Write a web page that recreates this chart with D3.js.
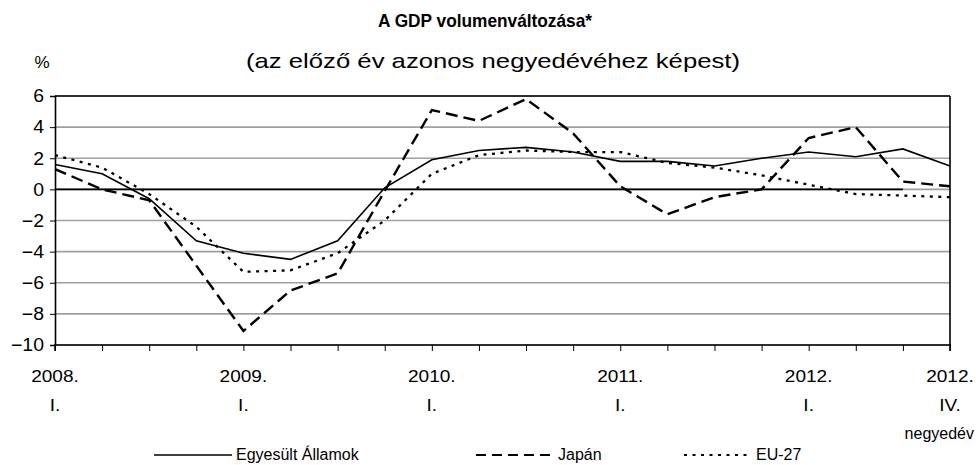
<!DOCTYPE html>
<html>
<head>
<meta charset="utf-8">
<script src="https://cdnjs.cloudflare.com/ajax/libs/d3/7.8.5/d3.min.js"></script>
<style>
    body { margin: 0; background: #fff; }
    text { font-family: "Liberation Sans", Arial, sans-serif; fill: #000; }
</style>
</head>
<body>
<svg id="chart" width="976" height="465"></svg>
<script>

var quarters = ["2008Q1", "2008Q2", "2008Q3", "2008Q4",
                "2009Q1", "2009Q2", "2009Q3", "2009Q4",
                "2010Q1", "2010Q2", "2010Q3", "2010Q4",
                "2011Q1", "2011Q2", "2011Q3", "2011Q4",
                "2012Q1", "2012Q2", "2012Q3", "2012Q4"];

var yearLabels = ["2008.", "", "", "", "2009.", "", "", "", "2010.", "", "", "",
                  "2011.", "", "", "", "2012.", "", "", "2012."];
var quarterLabels = ["I.", "", "", "", "I.", "", "", "", "I.", "", "", "",
                     "I.", "", "", "", "I.", "", "", "IV."];

var usa   = [1.6, 1.0, -0.6, -3.3, -4.1, -4.5, -3.3, 0.1, 1.9, 2.5, 2.7, 2.4,
             1.8, 1.8, 1.5, 2.0, 2.4, 2.1, 2.6, 1.5];
var japan = [1.3, 0.0, -0.7, -4.9, -9.1, -6.5, -5.4, -0.1, 5.1, 4.4, 5.8, 3.6,
             0.2, -1.6, -0.5, 0.0, 3.3, 4.0, 0.5, 0.2];
var eu27  = [2.2, 1.4, -0.3, -2.4, -5.3, -5.2, -4.1, -2.0, 1.0, 2.2, 2.5, 2.4,
             2.4, 1.7, 1.4, 0.9, 0.3, -0.3, -0.4, -0.5];

var yTicks = [-10, -8, -6, -4, -2, 0, 2, 4, 6];

var seriesNames = ["Egyesült Államok", "Japán", "EU-27"];

var svg = d3.select("#chart");

var plotLeft = 55, plotRight = 950, plotTop = 96, plotBottom = 345;

var x = d3.scalePoint()
    .domain(quarters)
    .range([plotLeft, plotRight]);

var y = d3.scaleLinear()
    .domain([-10, 6])
    .range([plotBottom, plotTop]);

// widen a text horizontally, the reference lettering is a bit stretched
function stretch(sel, k) {
    sel.each(function () {
        var w = this.getComputedTextLength();
        if (w > 0) {
            d3.select(this)
                .attr("textLength", w * k)
                .attr("lengthAdjust", "spacingAndGlyphs");
        }
    });
}

/* title */
svg.append("text")
    .attr("x", 485).attr("y", 27)
    .attr("text-anchor", "middle")
    .style("font-size", "19px").style("font-weight", "bold")
    .text("A GDP volumenváltozása*")
    .attr("textLength", 214)
    .attr("lengthAdjust", "spacingAndGlyphs");

svg.append("text")
    .attr("x", 493).attr("y", 68)
    .attr("text-anchor", "middle")
    .style("font-size", "21px")
    .text("(az előző év azonos negyedévéhez képest)")
    .attr("textLength", 494)
    .attr("lengthAdjust", "spacingAndGlyphs");

svg.append("text")
    .attr("x", 42).attr("y", 68)
    .attr("text-anchor", "middle")
    .style("font-size", "17px")
    .text("%");

/* gridlines */
svg.append("g")
    .selectAll("line")
    .data(yTicks)
    .enter().append("line")
    .attr("x1", plotLeft).attr("x2", plotRight)
    .attr("y1", function (d) { return y(d); })
    .attr("y2", function (d) { return y(d); })
    .attr("stroke", "#a0a0a0")
    .attr("stroke-width", 1.6);

// zero line (black up to the 2012 III. point)
svg.append("line")
    .attr("x1", plotLeft).attr("x2", x(quarters[18]))
    .attr("y1", y(0)).attr("y2", y(0))
    .attr("stroke", "#000")
    .attr("stroke-width", 1.6);

/* frame: top and right */
svg.append("line")
    .attr("x1", plotLeft).attr("x2", plotRight)
    .attr("y1", y(6)).attr("y2", y(6))
    .attr("stroke", "#000").attr("stroke-width", 1.6);
svg.append("line")
    .attr("x1", plotRight).attr("x2", plotRight)
    .attr("y1", y(6)).attr("y2", y(-10))
    .attr("stroke", "#000").attr("stroke-width", 1.6);

/* y axis */
var yAxis = svg.append("g")
    .attr("class", "y axis")
    .attr("transform", "translate(" + plotLeft + ",0)")
    .call(d3.axisLeft(y)
        .tickValues(yTicks)
        .tickSize(5)
        .tickPadding(6)
        .tickFormat(d3.format("d")));

/* x axis */
var xAxis = svg.append("g")
    .attr("class", "x axis")
    .attr("transform", "translate(0," + plotBottom + ")")
    .call(d3.axisBottom(x)
        .tickSize(6)
        .tickFormat(""));

svg.selectAll(".axis path").attr("stroke", "#000").attr("stroke-width", 1.6);
svg.selectAll(".axis line").attr("stroke", "#000").attr("stroke-width", 1);
yAxis.selectAll("text")
    .style("font-size", "18px")
    .style("font-family", "'Liberation Sans', Arial, sans-serif")
    .attr("fill", "#000");
stretch(yAxis.selectAll("text"), 1.08);
xAxis.select(".domain").attr("d", "M" + plotLeft + ",6V0H" + plotRight + "V6");

/* category labels */
var labels = svg.append("g");
labels.selectAll(".year")
    .data(quarters)
    .enter().append("text")
    .attr("class", "year")
    .attr("x", function (d) { return x(d); })
    .attr("y", 382)
    .attr("text-anchor", "middle")
    .style("font-size", "17px")
    .text(function (d, i) { return yearLabels[i]; });

labels.selectAll(".quarter")
    .data(quarters)
    .enter().append("text")
    .attr("class", "quarter")
    .attr("x", function (d) { return x(d); })
    .attr("y", 411)
    .attr("text-anchor", "middle")
    .style("font-size", "17px")
    .text(function (d, i) { return quarterLabels[i]; });

stretch(labels.selectAll("text"), 1.12);

svg.append("text")
    .attr("x", 974).attr("y", 439)
    .attr("text-anchor", "end")
    .style("font-size", "16px")
    .text("negyedév");

/* lines */
var valueline = d3.line()
    .x(function (d, i) { return x(quarters[i]); })
    .y(function (d) { return y(d); });

var styles = [
    { data: usa,   dash: null,    width: 1.6 },
    { data: japan, dash: "12,6",  width: 2.4 },
    { data: eu27,  dash: "3,5.5", width: 2.3 }
];

styles.forEach(function (s) {
    svg.append("path")
        .attr("class", "line")
        .attr("d", valueline(s.data))
        .attr("fill", "none")
        .attr("stroke", "#000")
        .attr("stroke-width", s.width)
        .attr("stroke-dasharray", s.dash);
});

/* legend */
var legendPos = [{ x1: 154, x2: 232 }, { x1: 476, x2: 554 }, { x1: 684, x2: 752 }];

var legend = svg.append("g");
seriesNames.forEach(function (name, i) {
    legend.append("line")
        .attr("x1", legendPos[i].x1).attr("x2", legendPos[i].x2)
        .attr("y1", 455).attr("y2", 455)
        .attr("stroke", "#000")
        .attr("stroke-width", i === 0 ? 1.6 : 2)
        .attr("stroke-dasharray", i === 1 ? "10,6" : styles[i].dash);
    legend.append("text")
        .attr("x", legendPos[i].x2 + 4).attr("y", 460)
        .style("font-size", "16px")
        .text(name);
});

</script>
</body>
</html>
